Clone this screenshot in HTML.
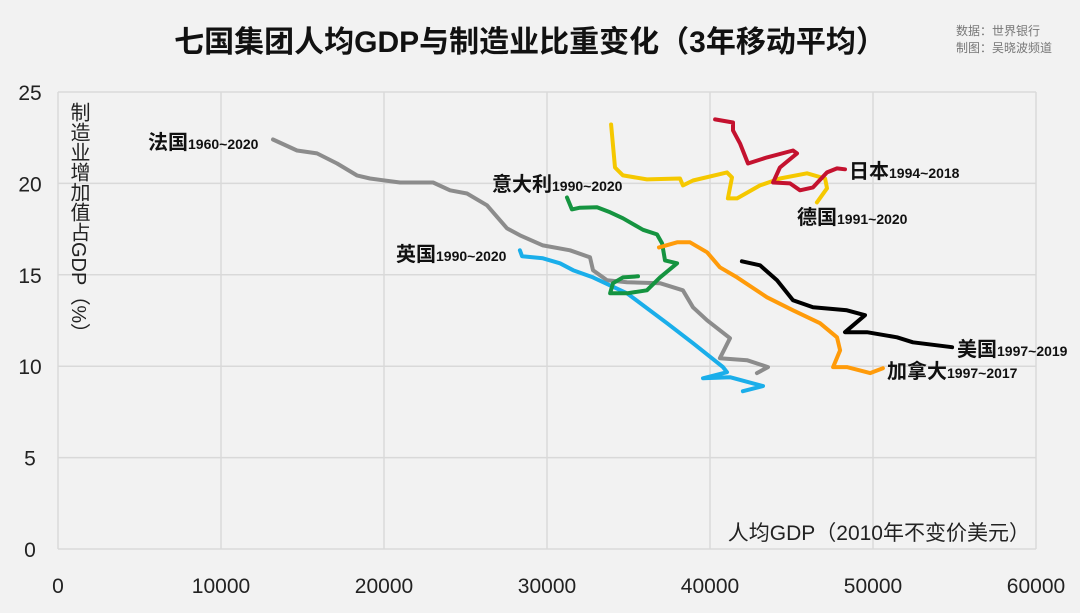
<!DOCTYPE html>
<html><head><meta charset="utf-8">
<style>
html,body{margin:0;padding:0;background:#f2f2f2;}
body{width:1080px;height:608px;overflow:hidden;font-family:"Liberation Sans","Noto Sans CJK SC",sans-serif;}
</style></head>
<body>
<svg id="chart" width="1080" height="608" xmlns="http://www.w3.org/2000/svg" style="font-family:'Liberation Sans','Noto Sans CJK SC',sans-serif">
<rect width="1080" height="608" fill="#f2f2f2"/>
<text x="530" y="52" text-anchor="middle" font-size="30" font-weight="bold" fill="#111">七国集团人均GDP与制造业比重变化（3年移动平均）</text>
<text x="956" y="35" font-size="12" fill="#777">数据：世界银行</text>
<text x="956" y="52" font-size="12" fill="#777">制图：吴晓波频道</text>
<g id="grid"></g>
<g id="ticks"></g>
<text x="78" y="102" font-size="20" fill="#222" style="writing-mode:vertical-rl;text-orientation:mixed">制造业增加值占GDP（%）</text>
<text x="1030" y="540" text-anchor="end" font-size="21" fill="#222">人均GDP（2010年不变价美元）</text>
<g id="series"></g>
<g fill="#111">
<text x="148" y="149" font-size="20" font-weight="bold">法国<tspan font-size="14">1960~2020</tspan></text>
<text x="492" y="191" font-size="20" font-weight="bold">意大利<tspan font-size="14">1990~2020</tspan></text>
<text x="396" y="261" font-size="20" font-weight="bold">英国<tspan font-size="14">1990~2020</tspan></text>
<text x="849" y="178" font-size="20" font-weight="bold">日本<tspan font-size="14">1994~2018</tspan></text>
<text x="797" y="224" font-size="20" font-weight="bold">德国<tspan font-size="14">1991~2020</tspan></text>
<text x="957" y="356" font-size="20" font-weight="bold">美国<tspan font-size="14">1997~2019</tspan></text>
<text x="887" y="378" font-size="20" font-weight="bold">加拿大<tspan font-size="14">1997~2017</tspan></text>
</g>
</svg>
<script>
const xTicks=[0,10000,20000,30000,40000,50000,60000];
const yTicks=[0,5,10,15,20,25];
const franceX=[13190,14660,15890,17120,18340,19140,20980,23010,24050,25090,26320,27550,28340,29750,31410,32640,32820,33680,34910,36930,38340,38960,39820,41230,40610,42270,43560,42880];
const franceY=[22.40,21.80,21.64,21.09,20.44,20.27,20.05,20.05,19.62,19.45,18.80,17.54,17.16,16.61,16.34,15.96,15.25,14.70,14.59,14.54,14.15,13.22,12.51,11.53,10.44,10.33,9.95,9.62];
const ukX=[28340,28470,29750,30800,31600,32820,34910,37360,38960,40800,41040,39570,41230,43250,42020];
const ukY=[16.34,16.01,15.90,15.63,15.25,14.86,13.99,12.35,11.26,9.95,9.67,9.34,9.40,8.91,8.63];
const italyX=[31230,31530,32020,33070,33870,34660,35890,36750,37060,37240,37980,36930,36130,34910,33870,34050,34660,35580];
const italyY=[19.23,18.58,18.67,18.69,18.42,18.09,17.46,17.21,16.72,15.79,15.63,14.86,14.15,13.99,13.99,14.54,14.86,14.92];
const germanyX=[33930,34170,34660,36130,38160,38340,38960,41040,41350,41100,41660,43070,44290,45950,47060,47180,46560];
const germanyY=[23.22,20.87,20.44,20.22,20.27,19.89,20.16,20.60,20.33,19.18,19.18,19.89,20.27,20.55,20.27,19.73,18.96];
const japanX=[40310,41410,41410,41840,42330,43500,45090,45340,44290,43870,44910,45520,46320,47180,47790,48280];
const japanY=[23.50,23.33,22.90,22.19,21.09,21.42,21.80,21.64,20.87,20.05,20.00,19.62,19.78,20.60,20.82,20.77];
const canadaX=[36870,37980,38770,39820,40610,41660,43500,45090,46750,47790,47980,47550,48400,49820,50610];
const canadaY=[16.50,16.78,16.78,16.23,15.41,14.86,13.77,13.06,12.35,11.58,10.87,9.95,9.95,9.62,9.89];
const usaX=[41960,43070,44110,45090,46320,48400,49510,48280,49630,51470,52450,54850];
const usaY=[15.74,15.52,14.70,13.61,13.22,13.06,12.79,11.86,11.86,11.58,11.31,11.04];

const NS='http://www.w3.org/2000/svg';
const X0=58,X1=1036,Y0=549,Y1=92;
function sx(v){return X0+(v-0)/60000*(X1-X0);}
function sy(v){return Y0-(v-0)/25*(Y0-Y1);}
function mk(tag,attrs,parent){const e=document.createElementNS(NS,tag);for(const k in attrs)e.setAttribute(k,attrs[k]);parent.appendChild(e);return e;}
const grid=document.getElementById('grid'),ticks=document.getElementById('ticks'),series=document.getElementById('series');
xTicks.forEach(t=>{
  const l=mk('line',{x1:sx(t),x2:sx(t),y1:Y1,y2:Y0,stroke:'#d9d9d9','stroke-width':1.5},grid);
  
  
  const tx=mk('text',{x:sx(t),y:593,'text-anchor':'middle','font-size':21,fill:'#222'},ticks);
  tx.textContent=t;
  
  
});
yTicks.forEach(t=>{
  const l=mk('line',{x1:X0,x2:X1,y1:sy(t),y2:sy(t),stroke:'#d9d9d9','stroke-width':1.5},grid);
  
  
  const tx=mk('text',{x:30,y:sy(t)+8,'text-anchor':'middle','font-size':21,fill:'#222'},ticks);
  tx.textContent=t;
  
  
});
function line(xs,ys,color,name){
  const d=xs.map((x,i)=>(i?'L':'M')+sx(x).toFixed(1)+','+sy(ys[i]).toFixed(1)).join(' ');
  const p=mk('path',{d:d,fill:'none',stroke:color,'stroke-width':4,'stroke-linejoin':'round','stroke-linecap':'round'},series);
  
  
}
line(franceX,franceY,'#8c8c8c','line-france');
line(ukX,ukY,'#1aaeea','line-uk');
line(italyX,italyY,'#159440','line-italy');
line(germanyX,germanyY,'#f5c800','line-germany');
line(japanX,japanY,'#c4122f','line-japan');
line(canadaX,canadaY,'#ff9b0a','line-canada');
line(usaX,usaY,'#000000','line-usa');
</script>
</body></html>
